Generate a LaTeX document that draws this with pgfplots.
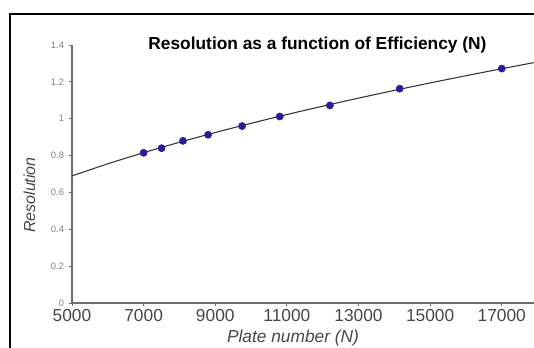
\documentclass[border=0pt]{standalone}
\usepackage{fontspec}
\setmainfont{Liberation Sans}
\usepackage{pgfplots}
\pgfplotsset{compat=1.18}
\definecolor{marknavy}{RGB}{40,30,150}
\definecolor{axisgray}{RGB}{110,110,110}
\definecolor{labgray}{RGB}{70,70,70}
\begin{document}
\begin{tikzpicture}
\begin{axis}[
  name=ax, at={(0,0)}, anchor=south west,
  scale only axis, width=346.5pt, height=193.5pt,
  xmin=5000, xmax=17900, ymin=0, ymax=1.4,
  axis x line*=bottom, axis y line*=left,
  axis line style={axisgray, line width=1pt},
  xtick={5000,7000,9000,11000,13000,15000,17000},
  ytick={0,0.2,0.4,0.6,0.8,1,1.2,1.4},
  scaled ticks=false,
  tick align=outside, major tick length=2.5pt,
  tick style={axisgray, line width=0.6pt},
  /pgf/number format/assume math mode=true,
  /pgf/number format/set thousands separator={},
  xticklabel style={font=\fontsize{13}{13}\selectfont, text=labgray, yshift=1pt},
  yticklabel style={font=\fontsize{7}{7}\selectfont, text=gray},
]
\addplot[smooth, line width=0.8pt, color=black!80] coordinates {
(5000,0.6894) (6000,0.7552) (7000,0.8157) (8000,0.8721) (9000,0.9250)
(10000,0.9750) (11000,1.0226) (12000,1.0681) (13000,1.1117) (14000,1.1536)
(15000,1.1941) (16000,1.2333) (17000,1.2712) (18000,1.3081)};
\addplot[only marks, mark=*, mark size=2.7pt, color=marknavy] coordinates {
(7000,0.815) (7500,0.84) (8100,0.88) (8800,0.913) (9750,0.96)
(10800,1.012) (12200,1.072) (14150,1.163) (17000,1.272)};
\end{axis}
\node[anchor=base, font=\bfseries\fontsize{13}{13}\selectfont] at (184.1pt,189.75pt) {Resolution as a function of Efficiency (N)};
\node[anchor=base, font=\itshape\fontsize{13}{13}\selectfont, text=labgray] at (165.75pt,-30pt) {Plate number (N)};
\node[anchor=base, rotate=90, font=\itshape\fontsize{12}{12}\selectfont, text=labgray] at (-27.75pt,81pt) {Resolution};
\draw[line width=1.2pt] (-46.5pt,-60pt) -- (-46.5pt,216.75pt) -- (420pt,216.75pt);
\pgfresetboundingbox
\useasboundingbox (-54pt,-33.75pt) rectangle (346.5pt,227.25pt);
\end{tikzpicture}
\end{document}
